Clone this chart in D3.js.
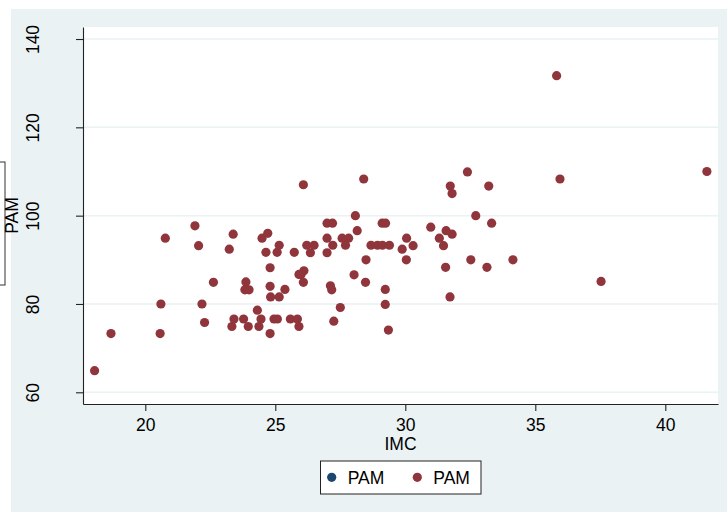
<!DOCTYPE html>
<html>
<head>
<meta charset="utf-8">
<script src="https://d3js.org/d3.v7.min.js"></script>
<style>
  body { margin: 0; background: #ffffff; }
  svg text { font-family: "Liberation Sans", Arial, sans-serif; }
</style>
</head>
<body>
<svg id="scatter" width="727" height="512"></svg>
<script>
// data (IMC vs PAM)
const imc = [18.05, 18.68, 20.57, 20.60, 20.77, 21.91, 22.05, 22.18, 22.28, 22.62,
  23.23, 23.38, 23.33, 23.41, 23.78, 23.96, 23.87, 23.83, 23.99, 24.31,
  24.37, 24.45, 24.49, 24.71, 24.64, 25.07, 25.15, 24.80, 24.80, 25.37,
  24.82, 25.15, 24.80, 24.95, 25.08, 25.58, 25.85, 25.91, 25.73, 25.91,
  26.08, 28.40, 32.39, 31.73, 31.80, 33.21, 28.08, 32.71, 26.99, 27.20,
  29.11, 29.24, 33.32, 28.15, 30.98, 31.57, 31.80, 26.99, 27.57, 27.82,
  31.31, 30.05, 26.21, 26.49, 26.35, 26.99, 27.21, 27.70, 28.68, 28.93,
  29.12, 29.39, 29.88, 30.30, 31.47, 28.49, 30.04, 32.52, 34.14, 31.55,
  33.14, 26.10, 25.99, 26.08, 28.03, 28.47, 27.12, 27.17, 29.23, 29.23,
  31.72, 27.50, 27.25, 29.35, 35.82, 35.95, 37.53, 41.60];
const pam = [64.9, 73.3, 73.3, 80.0, 94.9, 97.7, 93.2, 80.0, 75.8, 84.9,
  92.4, 95.8, 74.9, 76.6, 76.6, 74.9, 85.0, 83.2, 83.2, 78.6,
  74.9, 76.6, 94.9, 96.0, 91.7, 91.7, 93.3, 88.2, 84.0, 83.3,
  81.6, 81.6, 73.3, 76.6, 76.6, 76.6, 76.6, 74.9, 91.7, 86.7,
  107.0, 108.3, 109.9, 106.7, 105.0, 106.7, 100.0, 100.0, 98.3, 98.3,
  98.3, 98.3, 98.3, 96.6, 97.4, 96.6, 95.8, 94.9, 94.9, 94.9,
  94.9, 94.9, 93.3, 93.3, 91.6, 91.6, 93.3, 93.3, 93.3, 93.3,
  93.3, 93.3, 92.4, 93.2, 93.2, 90.0, 90.0, 90.0, 90.0, 88.3,
  88.3, 87.5, 86.7, 84.9, 86.6, 84.9, 84.1, 83.2, 83.3, 79.9,
  81.6, 79.2, 76.1, 74.1, 131.7, 108.3, 85.1, 110.0];
const xTicks = [20, 25, 30, 35, 40];
const yTicks = [60, 80, 100, 120, 140];
const legendLabels = ['PAM', 'PAM'];
const legendColors = ['#1a476f', '#90353b'];

const points = imc.map((d, i) => ({ imc: d, pam: pam[i] }));

const svg = d3.select('#scatter');
const plot = { left: 83, right: 718, top: 27, bottom: 404 };
const font = 17.5;

// outer background (stata style)
svg.append('rect')
  .attr('x', 11).attr('y', 9)
  .attr('width', 727 - 11).attr('height', 512 - 9)
  .attr('fill', '#eaf2f3');

svg.append('rect')
  .attr('x', plot.left).attr('y', plot.top)
  .attr('width', plot.right - plot.left).attr('height', plot.bottom - plot.top)
  .attr('fill', '#ffffff');

const xScale = d3.scaleLinear()
  .domain([17.604, 42.027])
  .range([plot.left, plot.right]);

const yScale = d3.scaleLinear()
  .domain([57.35, 142.72])
  .range([plot.bottom, plot.top]);

// horizontal grid
svg.append('g')
  .selectAll('line')
  .data(yTicks)
  .join('line')
  .attr('x1', plot.left).attr('x2', plot.right)
  .attr('y1', d => yScale(d)).attr('y2', d => yScale(d))
  .attr('stroke', '#eaf2f3')
  .attr('stroke-width', 1.5);

// points
svg.append('g')
  .selectAll('circle')
  .data(points)
  .join('circle')
  .attr('cx', d => xScale(d.imc))
  .attr('cy', d => yScale(d.pam))
  .attr('r', 4.6)
  .attr('fill', '#90353b');

// x axis
const xAxisG = svg.append('g')
  .attr('transform', `translate(0,${plot.bottom})`)
  .call(d3.axisBottom(xScale).tickValues(xTicks).tickSize(7).tickSizeOuter(0));
xAxisG.selectAll('text')
  .attr('y', 27).attr('dy', null)
  .attr('font-size', font)
  .attr('fill', '#000');

// y axis
const yAxisG = svg.append('g')
  .attr('transform', `translate(${plot.left},0)`)
  .call(d3.axisLeft(yScale).tickValues(yTicks).tickSize(7).tickSizeOuter(0));
yAxisG.selectAll('text')
  .attr('x', null).attr('dy', null)
  .attr('transform', 'translate(-44.5,0) rotate(-90)')
  .attr('text-anchor', 'middle')
  .attr('font-size', font)
  .attr('fill', '#000');

svg.selectAll('.domain, .tick line')
  .attr('stroke', '#222')
  .attr('stroke-width', 1.1);

// axis titles
svg.append('text')
  .attr('x', (plot.left + plot.right) / 2)
  .attr('y', 450)
  .attr('text-anchor', 'middle')
  .attr('font-size', font)
  .text('IMC');

// leftover box edge at the far left
svg.append('rect')
  .attr('x', -20).attr('y', 162)
  .attr('width', 25).attr('height', 123)
  .attr('fill', 'none')
  .attr('stroke', '#333');

svg.append('text')
  .attr('transform', `translate(18,${(plot.top + plot.bottom) / 2}) rotate(-90)`)
  .attr('text-anchor', 'middle')
  .attr('font-size', font)
  .text('PAM');

// legend
const legend = svg.append('g');
legend.append('rect')
  .attr('x', 320.5).attr('y', 461)
  .attr('width', 160.5).attr('height', 33)
  .attr('fill', '#ffffff')
  .attr('stroke', '#222');

const legendX = [331.7, 417.3];
legendLabels.forEach(function (lab, i) {
  legend.append('circle')
    .attr('cx', legendX[i]).attr('cy', 477.3)
    .attr('r', 4.6)
    .attr('fill', legendColors[i]);
  legend.append('text')
    .attr('x', legendX[i] + 16).attr('y', 484)
    .attr('font-size', font)
    .text(lab);
});
</script>
</body>
</html>
